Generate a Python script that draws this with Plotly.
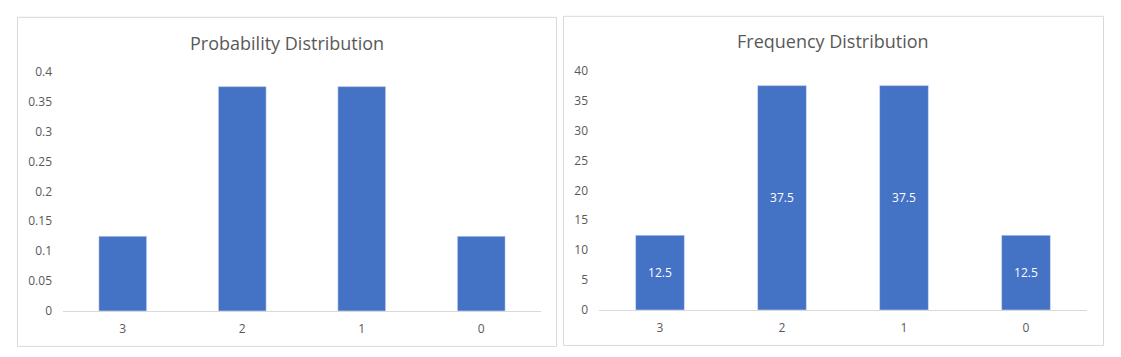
import plotly.graph_objects as go

categories = ["3", "2", "1", "0"]
probability = [0.125, 0.375, 0.375, 0.125]
frequency = [12.5, 37.5, 37.5, 12.5]
prob_ticks = [0, 0.05, 0.1, 0.15, 0.2, 0.25, 0.3, 0.35, 0.4]
freq_ticks = [0, 5, 10, 15, 20, 25, 30, 35, 40]

W, H = 1121, 357
BAR = "#4472C4"
TXT = "#595959"
FONT = "Open Sans"

def px(x):
    return x / W

def py(y):
    # compensate for observed vertical compression in the photographed page
    y = 181.5 + (y - 181.5) / 0.955
    return 1 - y / H

fig = go.Figure()
fig.add_trace(go.Bar(x=categories, y=probability, marker_color=BAR, width=0.4,
                     xaxis="x", yaxis="y", hoverinfo="skip"))
fig.add_trace(go.Bar(x=categories, y=frequency, marker_color=BAR, width=0.4,
                     xaxis="x2", yaxis="y2", text=[f"{v:g}" for v in frequency],
                     textposition="inside", insidetextanchor="middle", textangle=0,
                     textfont=dict(color="white", size=12, family=FONT), hoverinfo="skip"))

xcommon = dict(type="category", showgrid=False, showline=True, linecolor="#d9d9d9",
               linewidth=1, ticks="", tickfont=dict(color=TXT, size=12, family=FONT),
               fixedrange=True, zeroline=False, ticklabelstandoff=7)
ycommon = dict(showgrid=False, showline=False, zeroline=False, ticks="",
               tickfont=dict(color=TXT, size=12, family=FONT), fixedrange=True,
               ticklabelstandoff=10)

fig.update_layout(
    width=W, height=H, margin=dict(l=0, r=0, t=0, b=0),
    paper_bgcolor="white", plot_bgcolor="white", showlegend=False, bargap=0.6,
    xaxis=dict(domain=[px(63), px(541)], anchor="y", **xcommon),
    yaxis=dict(domain=[py(311), py(71)], anchor="x", range=[0, 0.4],
               tickvals=prob_ticks, ticktext=[f"{v:g}" for v in prob_ticks], **ycommon),
    xaxis2=dict(domain=[px(599), px(1087)], anchor="y2", **xcommon),
    yaxis2=dict(domain=[py(310), py(70)], anchor="x2", range=[0, 40],
                tickvals=freq_ticks, ticktext=[f"{v:g}" for v in freq_ticks], **ycommon),
    shapes=[
        dict(type="rect", xref="paper", yref="paper", x0=px(17.5), x1=px(556.5),
             y0=py(346.5), y1=py(16.5), line=dict(color="#d9d9d9", width=1)),
        dict(type="rect", xref="paper", yref="paper", x0=px(563.5), x1=px(1103.5),
             y0=py(345.5), y1=py(15.5), line=dict(color="#d9d9d9", width=1)),
    ],
    annotations=[
        dict(text="Probability Distribution", xref="paper", yref="paper", x=px(287), y=py(42),
             xanchor="center", yanchor="middle", showarrow=False,
             font=dict(color=TXT, size=18, family=FONT)),
        dict(text="Frequency Distribution", xref="paper", yref="paper", x=px(833), y=py(40),
             xanchor="center", yanchor="middle", showarrow=False,
             font=dict(color=TXT, size=18, family=FONT)),
    ],
)

fig.write_html("out.html", config={"displayModeBar": False},
               post_script="document.body.style.margin='0';document.body.style.overflow='hidden';")
